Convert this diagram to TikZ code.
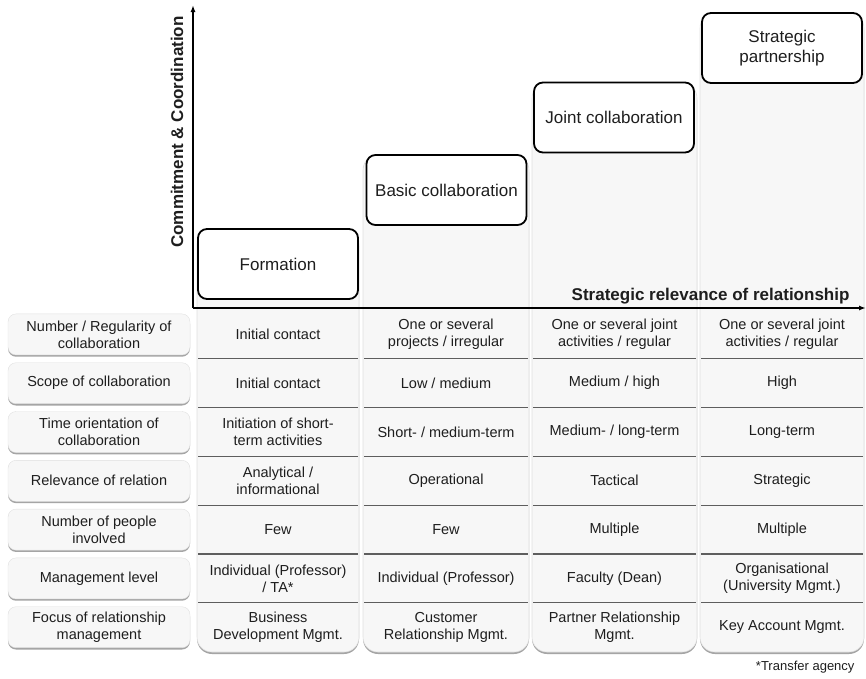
\documentclass[tikz,border=0pt]{standalone}
\usepackage{fontspec}
\setmainfont{Liberation Sans}
\usetikzlibrary{arrows.meta,shadows}

\definecolor{panelgray}{HTML}{F7F7F7}
\definecolor{edgegray}{HTML}{E0E0E0}
\definecolor{rulegray}{HTML}{5E5E5E}
\definecolor{shadegray}{HTML}{8E8E8E}
\definecolor{inkgray}{HTML}{1E1E1E}

\tikzset{
  panel/.style={fill=panelgray, draw=edgegray, line width=0.6pt, rounded corners=15pt,
    drop shadow={shadow xshift=0pt, shadow yshift=-2pt, fill=shadegray, opacity=0.8}},
  stagebox/.style={draw=black, line width=1.8pt, rounded corners=9pt, fill=white,
    minimum width=160pt, minimum height=70pt, align=center, text=inkgray,
    font=\fontsize{17}{20}\selectfont},
  headbox/.style={draw=edgegray, fill=panelgray, rounded corners=8pt,
    minimum width=182pt, minimum height=41pt, align=center, text=inkgray,
    font=\fontsize{14.5}{17}\selectfont,
    drop shadow={shadow xshift=0pt, shadow yshift=-1.8pt, fill=shadegray, opacity=0.8}},
  cell/.style={align=center, text=inkgray, font=\fontsize{14.5}{17}\selectfont},
  axislabel/.style={text=inkgray, font=\fontsize{17}{20}\selectfont\bfseries},
  rowrule/.style={draw=rulegray, line width=1.1pt},
}

\begin{document}
\begin{tikzpicture}[x=1pt,y=-1pt]
    \def \rowtop {310}
    \def \rowh {48.8}
    \def \panelbottom {652}
    \useasboundingbox (0,0) rectangle (866,678);

    % column panels with row rules
    \foreach \l/\r/\t in {197/359/229, 363/529/155, 532/697/83, 700/864/13}
    {
      \path[panel] (\l,\t) rectangle (\r,\panelbottom);
      \foreach \k in {1,...,6}
        \draw[rowrule] (\l+1,{\rowtop+\k*\rowh}) -- (\r-1,{\rowtop+\k*\rowh});
    }

    % stages
    \node[stagebox] (formation) at (278,264) {Formation};
    \node[stagebox] (basic) at (446.5,190) {Basic collaboration};
    \node[stagebox] (joint) at (614,117.5) {Joint collaboration};
    \node[stagebox] (partner) at (782,48) {Strategic\\partnership};

    % axes
    \coordinate (origin) at (193,308);
    \coordinate (ytip) at (193,5);
    \coordinate (xtip) at (866,308);
    \draw[line width=1.5pt, -{Latex[length=7pt,width=5pt]}] (origin) -- (ytip);
    \draw[line width=1.5pt, -{Latex[length=7pt,width=5pt]}] (origin) -- (xtip);
    \node[axislabel, rotate=90] (ylabel) at (177,132) {Commitment \& Coordination};
    \node[axislabel, anchor=east] (xlabel) at (853,296) {Strategic relevance of relationship};

    % rows
    \foreach \i/\hd/\ca/\cb/\cc/\cd in {
      1/{Number / Regularity of\\collaboration}/{Initial contact}/{One or several\\projects / irregular}/{One or several joint\\activities / regular}/{One or several joint\\activities / regular},
      2/{Scope of collaboration}/{Initial contact}/{Low / medium}/{Medium / high}/{High},
      3/{Time orientation of\\collaboration}/{Initiation of short-\\term activities}/{Short- / medium-term}/{Medium- / long-term}/{Long-term},
      4/{Relevance of relation}/{Analytical /\\informational}/{Operational}/{Tactical}/{Strategic},
      5/{Number of people\\involved}/{Few}/{Few}/{Multiple}/{Multiple},
      6/{Management level}/{Individual (Professor)\\/ TA*}/{Individual (Professor)}/{Faculty (Dean)}/{Organisational\\(University Mgmt.)},
      7/{Focus of relationship\\management}/{Business\\Development Mgmt.}/{Customer\\Relationship Mgmt.}/{Partner Relationship\\Mgmt.}/{Key Account Mgmt.}}
    {
      \pgfmathsetmacro \yc {\rowtop+(\i-0.5)*\rowh}
      \node[headbox] (head\i) at (99,\yc) {\hd};
      \node[cell] (cell\i a) at (278,\yc) {\ca};
      \node[cell] (cell\i b) at (446,\yc) {\cb};
      \node[cell] (cell\i c) at (614.5,\yc) {\cc};
      \node[cell] (cell\i d) at (782,\yc) {\cd};
    }

    \node[anchor=east, text=inkgray, font=\fontsize{13}{15}\selectfont] (note) at (858,667) {*Transfer agency};
\end{tikzpicture}
\end{document}
